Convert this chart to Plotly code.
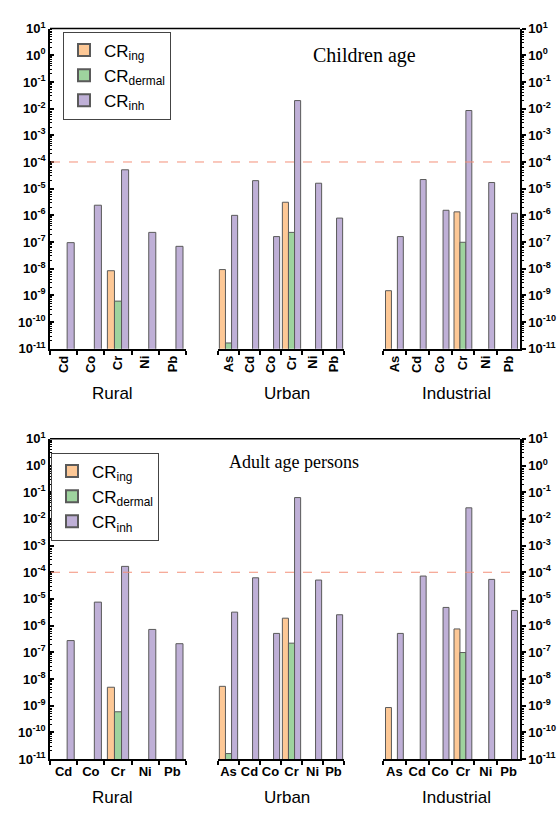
import plotly.graph_objects as go

# ---------------- data ----------------
rural_metals = ["Cd", "Co", "Cr", "Ni", "Pb"]
other_metals = ["As", "Cd", "Co", "Cr", "Ni", "Pb"]
sites = ["Rural", "Urban", "Industrial"]
series_names = ["CR<sub>ing</sub>", "CR<sub>dermal</sub>", "CR<sub>inh</sub>"]
threshold = 1e-4

# Children age
child_rural_ing = [None, None, 8.4e-9, None, None]
child_rural_derm = [None, None, 6.1e-10, None, None]
child_rural_inh = [9.5e-8, 2.4e-6, 5.1e-5, 2.3e-7, 6.9e-8]
child_urban_ing = [9.3e-9, None, None, 3.1e-6, None, None]
child_urban_derm = [1.65e-11, None, None, 2.3e-7, None, None]
child_urban_inh = [1.0e-6, 2.0e-5, 1.6e-7, 2.0e-2, 1.6e-5, 7.9e-7]
child_ind_ing = [1.5e-9, None, None, 1.35e-6, None, None]
child_ind_derm = [None, None, None, 9.8e-8, None, None]
child_ind_inh = [1.6e-7, 2.2e-5, 1.55e-6, 8.5e-3, 1.7e-5, 1.2e-6]

# Adult age persons
adult_rural_ing = [None, None, 4.9e-9, None, None]
adult_rural_derm = [None, None, 5.9e-10, None, None]
adult_rural_inh = [2.75e-7, 7.6e-6, 1.66e-4, 7.2e-7, 2.1e-7]
adult_urban_ing = [5.3e-9, None, None, 1.9e-6, None, None]
adult_urban_derm = [1.6e-11, None, None, 2.2e-7, None, None]
adult_urban_inh = [3.2e-6, 6.2e-5, 5.1e-7, 6.3e-2, 5.1e-5, 2.55e-6]
adult_ind_ing = [8.5e-10, None, None, 7.5e-7, None, None]
adult_ind_derm = [None, None, None, 9.8e-8, None, None]
adult_ind_inh = [5.1e-7, 7.2e-5, 4.8e-6, 2.6e-2, 5.4e-5, 3.7e-6]

panels = [
    {"title": "Children age",
     "groups": [(rural_metals, [child_rural_ing, child_rural_derm, child_rural_inh]),
                (other_metals, [child_urban_ing, child_urban_derm, child_urban_inh]),
                (other_metals, [child_ind_ing, child_ind_derm, child_ind_inh])]},
    {"title": "Adult age persons",
     "groups": [(rural_metals, [adult_rural_ing, adult_rural_derm, adult_rural_inh]),
                (other_metals, [adult_urban_ing, adult_urban_derm, adult_urban_inh]),
                (other_metals, [adult_ind_ing, adult_ind_derm, adult_ind_inh])]},
]

# ---------------- style ----------------
W, H = 559, 815
colors = ["#FDC896", "#9ED39E", "#BFB0D7"]
outline = "#5A5A5A"
x_px = [(50, 186), (218, 344), (383, 520)]
bar_w = [0.26, 0.29, 0.26]
panel_y_px = [(20, 347), (439, 766)]
ticklabel_font = dict(family="Liberation Sans", size=13, color="black", weight="bold")

def px_x(v):
    return v / W

def px_y(v):
    return 1 - v / H

fig = go.Figure()
layout = dict(
    width=W, height=H, margin=dict(l=0, r=0, t=0, b=0),
    paper_bgcolor="white", plot_bgcolor="white",
    barmode="group", showlegend=True, shapes=[], annotations=[],
)

tickvals = [10.0 ** e for e in range(-11, 2)]
ticktext = ["10<sup>%d</sup>" % e for e in range(-11, 2)]
minor_vals = [m * 10.0 ** e for e in range(-11, 1) for m in range(2, 10)]

for p, panel in enumerate(panels):
    y0px, y1px = panel_y_px[p]
    ydom = [px_y(y1px), px_y(y0px)]
    yl = "y" if p == 0 else "y3"
    yr = "y2" if p == 0 else "y4"
    leg = "legend" if p == 0 else "legend2"
    for side, yname, anchor in [("left", yl, "x" if p == 0 else "x4"), ("right", yr, "x%d" % (p * 3 + 3))]:
        key = "yaxis" if yname == "y" else "yaxis" + yname[1:]
        tdir = "inside" if side == "left" else "outside"
        layout[key] = dict(
            domain=ydom, anchor=anchor, side=side, type="log", range=[-11, 1],
            tickmode="array", tickvals=tickvals, ticktext=ticktext,
            showline=True, linecolor="black", linewidth=1.5,
            ticks=tdir, ticklen=4, tickwidth=1.5, tickcolor="black",
            minor=dict(ticks=tdir, ticklen=2, tickwidth=1, tickmode="array",
                       tickvals=minor_vals, tickcolor="black", showgrid=False),
            showgrid=False, zeroline=False, tickfont=ticklabel_font,
        )
    for g, (cats, series) in enumerate(panel["groups"]):
        k = p * 3 + g + 1
        xname = "x" if k == 1 else "x%d" % k
        xkey = "xaxis" if k == 1 else "xaxis%d" % k
        yname = yr if g == 2 else yl
        layout[xkey] = dict(
            domain=[px_x(x_px[g][0]), px_x(x_px[g][1])], anchor=yname,
            type="category", range=[-0.5, len(cats) - 0.5],
            showline=True, linecolor="black", linewidth=1.5,
            ticks="outside", tickson="boundaries", ticklen=4, tickwidth=1.5, tickcolor="black",
            tickangle=-90 if p == 0 else 0, tickfont=ticklabel_font,
            showgrid=False, zeroline=False,
        )
        w = bar_w[g]
        for i, vals in enumerate(series):
            fig.add_trace(go.Bar(
                x=cats, y=vals, name=series_names[i],
                xaxis=xname, yaxis=yname,
                width=w, offset=-1.5 * w + i * w,
                marker=dict(color=colors[i], line=dict(color=outline, width=1)),
                showlegend=(g == 0), legend=leg, legendgroup="s%d_%d" % (p, i),
            ))
    # top border line
    layout["shapes"].append(dict(type="line", xref="paper", yref=yl + " domain",
                                 x0=px_x(50), x1=px_x(520), y0=1, y1=1,
                                 line=dict(color="black", width=1.5)))
    # threshold dashed line
    layout["shapes"].append(dict(type="line", xref="paper", yref=yl,
                                 x0=px_x(51), x1=px_x(519), y0=threshold, y1=threshold,
                                 line=dict(color="#F4907A", width=1, dash="dash")))

# panel titles
def note(text, x, y, font):
    layout["annotations"].append(dict(text=text, x=px_x(x), y=px_y(y), xref="paper", yref="paper",
                                      xanchor="center", yanchor="middle", showarrow=False, font=font))

note("Children age", 365, 47, dict(family="Liberation Serif", size=20, color="black"))
note("Adult age persons", 294, 463, dict(family="Liberation Serif", size=18, color="black"))
# site labels
site_x = [112, 287, 456]
for ypx in [393, 805]:
    for g, s in enumerate(sites):
        note(s, site_x[g], ypx, dict(family="Liberation Sans", size=17, color="black"))

legend_style = dict(bgcolor="white", bordercolor="#444444", borderwidth=1,
                    font=dict(family="Liberation Sans", size=17, color="black"),
                    xanchor="left", yanchor="top", tracegroupgap=0, itemsizing="constant")
layout["legend"] = dict(x=px_x(63), y=px_y(23), **legend_style)
layout["legend2"] = dict(x=px_x(51), y=px_y(453), **legend_style)

fig.update_layout(**layout)
fig.write_html("out.html", config={"displayModeBar": False},
               post_script="document.body.style.margin='0';document.body.style.overflow='hidden';")
